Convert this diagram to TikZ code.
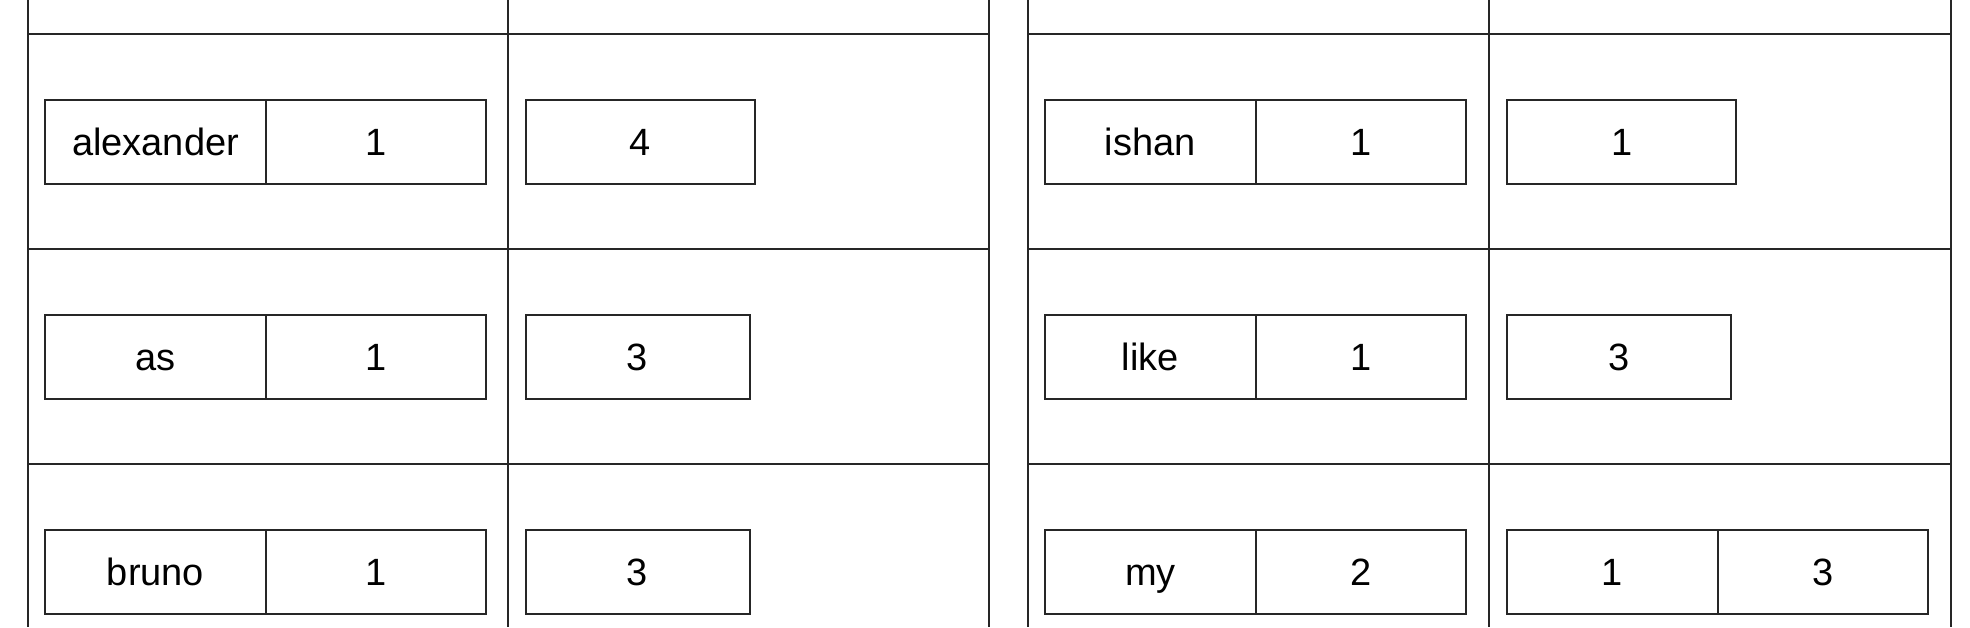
\documentclass[tikz,border=0pt]{standalone}
\usepackage{fontspec}
\setmainfont{Liberation Sans}
\usetikzlibrary{positioning}
\tikzset{grid/.style = { line width = 1pt, draw = black!85 }}
\tikzset{cell/.style = { draw = black!85, line width = 1pt, rectangle, inner sep = 0pt, outer sep = 0pt,
		minimum height = 42pt, text height = 13.6pt, text depth = 0pt, font = \fontsize{19}{22}\selectfont }}

\begin{document}
\begin{tikzpicture}[x = 0.5pt, y = -0.5pt]
		\useasboundingbox (0,0) rectangle (1970,627);

		% left table
		\draw [grid] (27.5,0) -- (27.5,627);
		\draw [grid] (507.6,0) -- (507.6,627);
		\draw [grid] (988.5,0) -- (988.5,627);
		\draw [grid] (27.5,34) -- (988.5,34);
		\draw [grid] (27.5,249) -- (988.5,249);
		\draw [grid] (27.5,464) -- (988.5,464);

		% right table
		\draw [grid] (1027.5,0) -- (1027.5,627);
		\draw [grid] (1488.7,0) -- (1488.7,627);
		\draw [grid] (1950.5,0) -- (1950.5,627);
		\draw [grid] (1027.5,34) -- (1950.5,34);
		\draw [grid] (1027.5,249) -- (1950.5,249);
		\draw [grid] (1027.5,464) -- (1950.5,464);

		\node [cell, anchor = west, minimum width = 110.25pt] (alexander) at (45.3,142) {alexander};
		\node [cell, minimum width = 110.3pt, right = 0pt of alexander] (alexanderN) {1};
		\node [cell, anchor = west, minimum width = 114.5pt] (alexanderL) at (525.5,142) {4};

		\node [cell, anchor = west, minimum width = 110.25pt] (as) at (45.3,357) {as};
		\node [cell, minimum width = 110.3pt, right = 0pt of as] (asN) {1};
		\node [cell, anchor = west, minimum width = 112pt] (asL) at (525.5,357) {3};

		\node [cell, anchor = west, minimum width = 110.25pt] (bruno) at (45.3,572) {bruno};
		\node [cell, minimum width = 110.3pt, right = 0pt of bruno] (brunoN) {1};
		\node [cell, anchor = west, minimum width = 112pt] (brunoL) at (525.5,572) {3};

		\node [cell, anchor = west, minimum width = 105.15pt] (ishan) at (1045.2,142) {ishan};
		\node [cell, minimum width = 105.15pt, right = 0pt of ishan] (ishanN) {1};
		\node [cell, anchor = west, minimum width = 114.5pt] (ishanL) at (1507.3,142) {1};

		\node [cell, anchor = west, minimum width = 105.15pt] (like) at (1045.2,357) {like};
		\node [cell, minimum width = 105.15pt, right = 0pt of like] (likeN) {1};
		\node [cell, anchor = west, minimum width = 112pt] (likeL) at (1507.3,357) {3};

		\node [cell, anchor = west, minimum width = 105.15pt] (my) at (1045.2,572) {my};
		\node [cell, minimum width = 105.15pt, right = 0pt of my] (myN) {2};
		\node [cell, anchor = west, minimum width = 105.15pt] (myL1) at (1507.3,572) {1};
		\node [cell, minimum width = 105.15pt, right = 0pt of myL1] (myL2) {3};
	\end{tikzpicture}
\end{document}
